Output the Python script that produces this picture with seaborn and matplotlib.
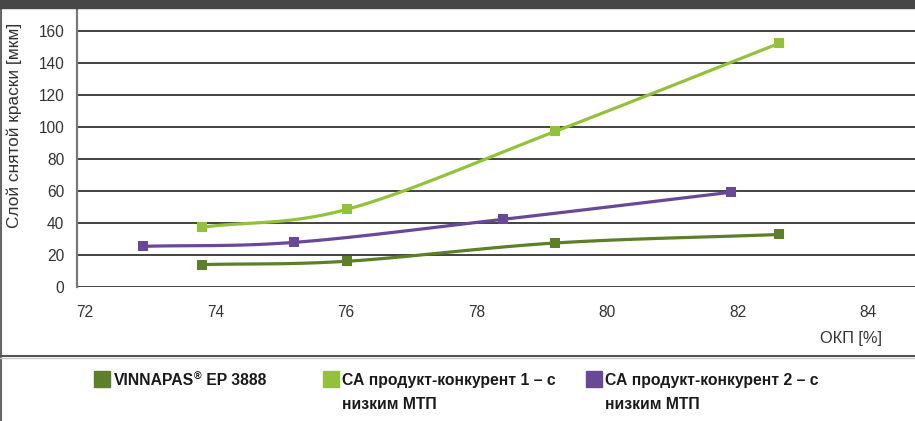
import numpy as np
import pandas as pd
import matplotlib
matplotlib.use("Agg")
import matplotlib.pyplot as plt
from matplotlib.patches import Rectangle
from matplotlib.lines import Line2D
import seaborn as sns

# ---- data ----
series_names = ["VINNAPAS® EP 3888",
                "СА продукт-конкурент 1 – с низким МТП",
                "СА продукт-конкурент 2 – с низким МТП"]
x_vinnapas = [73.8, 76.02, 79.21, 82.64]
y_vinnapas = [14.2, 16.3, 27.7, 33.0]
x_comp1 = [73.8, 76.02, 79.21, 82.64]
y_comp1 = [37.6, 48.8, 97.5, 152.5]
x_comp2 = [72.89, 75.21, 78.41, 81.90]
y_comp2 = [25.6, 28.1, 42.5, 59.4]
x_ticks = [72, 74, 76, 78, 80, 82, 84]
y_ticks = [0, 20, 40, 60, 80, 100, 120, 140, 160]
y_label = "Слой снятой краски [мкм]"
x_label = "ОКП [%]"
colors = ["#5C7F27", "#93C23A", "#684897"]

sns.set_theme(style="white")
plt.rcParams["font.family"] = ["Liberation Sans", "DejaVu Sans"]

W, H = 915, 421
fig = plt.figure(figsize=(W / 100, H / 100), dpi=100)

ax_left, ax_bottom_px, ax_top_px = 76.7, 287.3, 8
ax = fig.add_axes([ax_left / W, 1 - ax_bottom_px / H, 1 - ax_left / W,
                   (ax_bottom_px - ax_top_px) / H])
ax.set_facecolor("white")
ppx = 65.25  # px per x unit
ppy = 1.6    # px per y unit
ax.set_xlim(72 - (85 - ax_left) / ppx, 72 + (W - 85) / ppx)
ax.set_ylim(0, (ax_bottom_px - ax_top_px) / ppy)


def smooth(xs, ys, n=40):
    # Catmull-Rom spline through the data points (in pixel-like space)
    P = np.column_stack([np.asarray(xs) * ppx, np.asarray(ys) * ppy])
    P = np.vstack([P[0] - (P[1] - P[0]), P, P[-1] + (P[-1] - P[-2])])
    out = []
    for i in range(1, len(P) - 2):
        p0, p1, p2, p3 = P[i - 1], P[i], P[i + 1], P[i + 2]
        t = np.linspace(0, 1, n)[:, None]
        seg = 0.5 * ((2 * p1) + (-p0 + p2) * t + (2 * p0 - 5 * p1 + 4 * p2 - p3) * t ** 2
                     + (-p0 + 3 * p1 - 3 * p2 + p3) * t ** 3)
        out.append(seg if i == len(P) - 3 else seg[:-1])
    out = np.vstack(out)
    return out[:, 0] / ppx, out[:, 1] / ppy


ax.set_yticks(y_ticks)
ax.set_xticks(x_ticks)
ax.grid(axis="y", color="#222222", lw=1.2, zorder=1)
ax.grid(axis="x", visible=False)
ax.set_axisbelow(True)

for xs, ys, c in [(x_comp1, y_comp1, colors[1]), (x_comp2, y_comp2, colors[2]),
                  (x_vinnapas, y_vinnapas, colors[0])]:
    sx, sy = smooth(xs, ys)
    df = pd.DataFrame({"x": sx, "y": sy})
    sns.lineplot(data=df, x="x", y="y", sort=False, estimator=None, color=c,
                 lw=2.3, ax=ax, zorder=3)
    sns.scatterplot(x=xs, y=ys, marker="s", s=60, color=c, linewidth=0, ax=ax, zorder=4)

ax.set_xlabel("")
ax.set_ylabel("")
for s in ["top", "right", "bottom"]:
    ax.spines[s].set_visible(False)
ax.spines["left"].set_color("#777777")
ax.spines["left"].set_linewidth(1.6)
ax.tick_params(axis="y", length=0, pad=9, labelsize=11.2, labelcolor="#333333")
ax.tick_params(axis="x", length=0, pad=12.5, labelsize=11.2, labelcolor="#333333")

fig.text(882 / W, 1 - 338 / H, x_label, ha="right", va="center", fontsize=11.8, color="#333333")
fig.text(14 / W, 1 - 125 / H, y_label, ha="center", va="center", rotation=90,
         fontsize=12.4, color="#333333")

# frame decorations
fig.patches.append(Rectangle((0, 1 - 8 / H), 1, 8 / H, transform=fig.transFigure,
                             color="#474747", zorder=5))
fig.lines.append(Line2D([1 / W, 1 / W], [0, 1 - 8 / H], transform=fig.transFigure,
                        color="#666666", lw=1.5))
fig.lines.append(Line2D([0, 1], [1 - 356 / H, 1 - 356 / H], transform=fig.transFigure,
                        color="#555555", lw=1.5))
fig.lines.append(Line2D([0, 1], [1 - 358 / H, 1 - 358 / H], transform=fig.transFigure,
                        color="#cccccc", lw=1.0))

# legend
LFS = 11.3
TXT = "#1a1a1a"
base1 = 1 - 385 / H
base2 = 1 - 409 / H
leg_items = [(94, 114), (323, 342), (586, 605)]
# item 1 with superscript ®
name0 = series_names[0]
p_a, p_b = name0.split("®")
t1 = fig.text(114 / W, base1, p_a, ha="left", va="baseline", fontsize=LFS,
              fontweight="bold", color=TXT)
t2 = fig.text(0, 0, "", fontsize=1)
t2 = plt.annotate("®", xy=(1, base1 + 5 / H), xycoords=(t1, "figure fraction"),
                  ha="left", va="baseline", fontsize=7.5, fontweight="bold", color=TXT,
                  annotation_clip=False)
plt.annotate(p_b, xy=(1, base1), xycoords=(t2, "figure fraction"), ha="left",
             va="baseline", fontsize=LFS, fontweight="bold", color=TXT, annotation_clip=False)

for i in (1, 2):
    sqx, tx = leg_items[i]
    first, second = series_names[i].rsplit(" с ", 1)[0] + " с", series_names[i].rsplit(" с ", 1)[1]
    fig.text(tx / W, base1, first, ha="left", va="baseline", fontsize=LFS,
             fontweight="bold", color=TXT)
    fig.text((sqx + 19) / W, base2, second, ha="left", va="baseline",
             fontsize=LFS, fontweight="bold", color=TXT)

for (sqx, tx), c in zip(leg_items, colors):
    fig.patches.append(Rectangle((sqx / W, 1 - 387 / H), 16 / W, 16 / H,
                                 transform=fig.transFigure, color=c))

fig.savefig("out.png", dpi=100)
